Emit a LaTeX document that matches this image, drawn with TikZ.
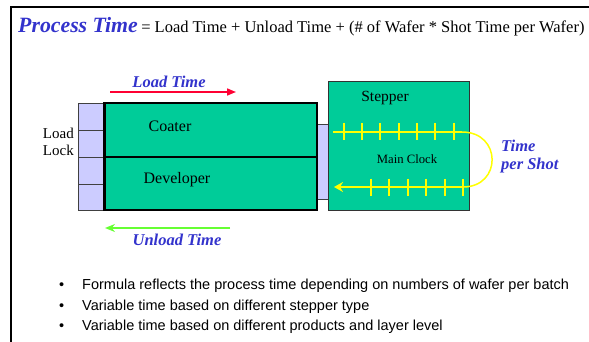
\documentclass[tikz,border=0pt]{standalone}
\usepackage{fontspec}
\setmainfont{Liberation Serif}
\newfontfamily\bulletfont{Liberation Sans}
\usetikzlibrary{positioning, arrows.meta, calc}

\definecolor{trackgreen}{RGB}{0,204,153}
\definecolor{lockblue}{RGB}{204,204,255}
\definecolor{titleblue}{RGB}{51,51,204}
\definecolor{loadred}{RGB}{255,0,51}
\definecolor{unloadgreen}{RGB}{102,255,51}
\definecolor{clockyellow}{RGB}{255,255,0}

\begin{document}
\begin{tikzpicture}[
        x=1pt, y=-1pt,
        lockbox/.style={draw=black!75, fill=lockblue, line width=0.8pt, inner sep=0pt},
        trackbox/.style={draw=black, fill=trackgreen, line width=1.1pt, inner sep=0pt},
        stepbox/.style={draw=black!80, fill=trackgreen, line width=0.9pt, inner sep=0pt},
        plain_label/.style={font=\fontsize{16}{17}\selectfont, inner sep=0pt},
        blue_label/.style={color=titleblue, font=\fontsize{16.5}{18}\selectfont\bfseries\itshape, inner sep=0pt},
        bullet_item/.style={font=\bulletfont\fontsize{14.5}{16}\selectfont, anchor=base west, inner sep=0pt},
        time_arrow/.style={line width=1.6pt},
        clock_line/.style={clockyellow, line width=1.5pt}
    ]
    \useasboundingbox (0,0) rectangle (589,342);

    % slide frame
    \draw[line width=2pt] (11,342) -- (11,7) -- (589,7);

    % formula line
    \node[anchor=base west, inner sep=0pt, color=titleblue, font=\fontsize{21.8}{23}\selectfont\bfseries\itshape] (title) at (18,33) {Process Time};
    \node[anchor=base west, inner sep=0pt, font=\fontsize{16.5}{18}\selectfont] (formula) at ($(title.base east)+(3,0)$) {= Load Time + Unload Time + (\# of Wafer * Shot Time per Wafer)};

    % load lock, coater / developer track, stepper
    \node[lockbox, minimum width=27pt, minimum height=107pt] (lock) at (91.5,156.5) {};
    \foreach \y in {130,157,184}
        \draw[black!75, line width=0.8pt] (78,\y) -- (105,\y);
    \node[lockbox, minimum width=11pt, minimum height=75pt] (bridge) at (322.5,161.5) {};
    \node[trackbox, minimum width=212pt, minimum height=54pt] (coater) at (211,130) {};
    \node[trackbox, minimum width=212pt, minimum height=53pt] (developer) at (211,183.5) {};
    \draw[line width=2pt] (coater.north west) -- (developer.south west);
    \node[stepbox, minimum width=141pt, minimum height=129pt] (stepper) at (398.5,145.5) {};

    \node[plain_label] (coater_text) at (170,126) {Coater};
    \node[plain_label] (developer_text) at (177,180) {Developer};
    \node[plain_label, font=\fontsize{15.5}{17}\selectfont] (stepper_text) at (385,98) {Stepper};
    \node[inner sep=0pt, font=\fontsize{12.7}{14}\selectfont] (clock_text) at (407,159) {Main Clock};
    \node[plain_label, font=\fontsize{15}{16}\selectfont, align=right, anchor=east] (lock_text) at (74,142) {Load\\[1pt]Lock};

    % load and unload arrows
    \coordinate (load_start) at (110,92);
    \coordinate (load_end) at (236,92);
    \draw[time_arrow, loadred, -{Triangle[length=9pt, width=7pt]}] (load_start) -- (load_end);
    \node[blue_label] (load_text) at (169,82) {Load Time};

    \coordinate (unload_start) at (230,228);
    \coordinate (unload_end) at (105,228);
    \draw[time_arrow, unloadgreen, -{Stealth[length=10pt, width=8pt]}] (unload_start) -- (unload_end);
    \node[blue_label] (unload_text) at (177,240) {Unload Time};

    % main clock shots
    \coordinate (shot_top) at (333,132);
    \coordinate (shot_turn) at (462,132);
    \coordinate (shot_back) at (463,187);
    \coordinate (shot_end) at (334,187);
    \draw[clock_line] (shot_top) -- (shot_turn);
    \foreach \x in {344,362,380,399,417,435,454}
        \draw[clock_line] (\x,123.5) -- (\x,140.5);
    \draw[clock_line] (shot_turn) .. controls (502,132) and (502,187) .. (shot_back);
    \draw[clock_line, -{Stealth[length=9pt, width=10pt]}] (shot_back) -- (shot_end);
    \foreach \x in {371,389,408,426,445,463}
        \draw[clock_line] (\x,178.5) -- (\x,195.5);
    \node[blue_label, align=left, anchor=west] (shot_text) at (501,157) {Time\\[0pt]per Shot};

    % notes
    \foreach \txt [count=\i] in {Formula reflects the process time depending on numbers of wafer per batch,
                                 Variable time based on different stepper type,
                                 Variable time based on different products and layer level} {
        \node[bullet_item] (bullet\i) at (59,289.5+20.5*\i-20.5) {\textbullet};
        \node[bullet_item] (note\i) at (82,289.5+20.5*\i-20.5) {\txt};
    }
\end{tikzpicture}
\end{document}
